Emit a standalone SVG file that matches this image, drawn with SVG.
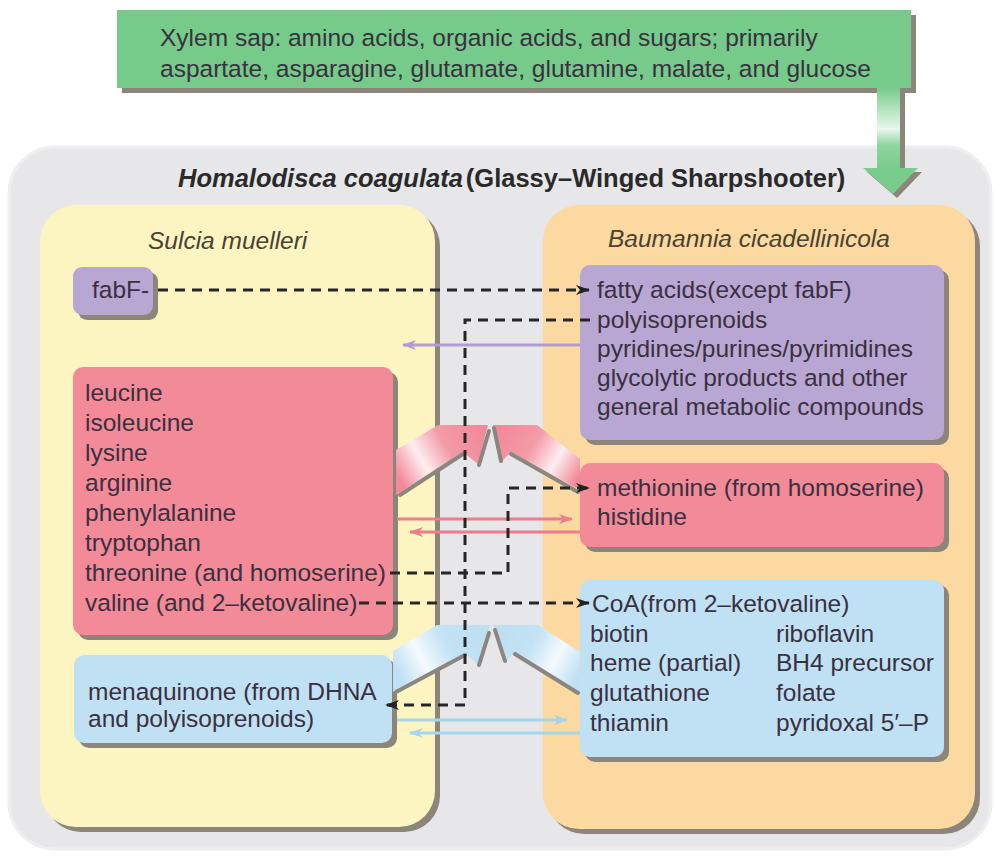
<svg xmlns="http://www.w3.org/2000/svg" width="995" height="857" viewBox="0 0 995 857">
  <style>
    text { font-family: "Liberation Sans", Arial, sans-serif; font-size: 24.5px; fill: #3a3040; }
    .label { font-style: italic; fill: #4a4232; }
    .title { font-size: 25.5px; font-weight: bold; fill: #2a2a2a; }
    .shadow { fill: #8c857a; }
    .dash { fill: none; stroke: #262626; stroke-width: 3; stroke-dasharray: 10 7; }
    .thin { fill: none; stroke-width: 3; }
    .edge { fill: none; stroke: #8c8680; stroke-width: 4; stroke-linecap: round; }
  </style>
  <defs>
    <marker id="ah-black" viewBox="0 0 14 10" refX="13" refY="5" markerWidth="14" markerHeight="10" markerUnits="userSpaceOnUse" orient="auto">
      <path d="M0,0 L14,5 L0,10 L4,5 z" fill="#222"/>
    </marker>
    <marker id="ah-pink" viewBox="0 0 14 10" refX="13" refY="5" markerWidth="14" markerHeight="10" markerUnits="userSpaceOnUse" orient="auto">
      <path d="M0,0 L14,5 L0,10 L4,5 z" fill="#ef7c8c"/>
    </marker>
    <marker id="ah-lilac" viewBox="0 0 14 10" refX="13" refY="5" markerWidth="14" markerHeight="10" markerUnits="userSpaceOnUse" orient="auto">
      <path d="M0,0 L14,5 L0,10 L4,5 z" fill="#b39ccf"/>
    </marker>
    <marker id="ah-blue" viewBox="0 0 14 10" refX="13" refY="5" markerWidth="14" markerHeight="10" markerUnits="userSpaceOnUse" orient="auto">
      <path d="M0,0 L14,5 L0,10 L4,5 z" fill="#a6d6ea"/>
    </marker>
    <linearGradient id="g-green" x1="0" y1="88" x2="0" y2="170" gradientUnits="userSpaceOnUse">
      <stop offset="0" stop-color="#78cc8c"/>
      <stop offset="0.5" stop-color="#e8f7ec"/>
      <stop offset="0.7" stop-color="#8ed49e"/>
      <stop offset="1" stop-color="#78cc8c"/>
    </linearGradient>
    <linearGradient id="g-pink-l" x1="397" y1="475" x2="480" y2="428" gradientUnits="userSpaceOnUse">
      <stop offset="0" stop-color="#f28898"/>
      <stop offset="0.3" stop-color="#fdeef0"/>
      <stop offset="0.6" stop-color="#f49aa7"/>
      <stop offset="1" stop-color="#f2899a"/>
    </linearGradient>
    <linearGradient id="g-pink-r" x1="580" y1="475" x2="500" y2="428" gradientUnits="userSpaceOnUse">
      <stop offset="0" stop-color="#f28898"/>
      <stop offset="0.3" stop-color="#fdeef0"/>
      <stop offset="0.6" stop-color="#f49aa7"/>
      <stop offset="1" stop-color="#f2899a"/>
    </linearGradient>
    <linearGradient id="g-blue-l" x1="397" y1="672" x2="480" y2="628" gradientUnits="userSpaceOnUse">
      <stop offset="0" stop-color="#bfe0f3"/>
      <stop offset="0.3" stop-color="#f4fafd"/>
      <stop offset="0.6" stop-color="#c4e3f5"/>
      <stop offset="1" stop-color="#bddff2"/>
    </linearGradient>
    <linearGradient id="g-blue-r" x1="580" y1="672" x2="500" y2="628" gradientUnits="userSpaceOnUse">
      <stop offset="0" stop-color="#bfe0f3"/>
      <stop offset="0.3" stop-color="#f4fafd"/>
      <stop offset="0.6" stop-color="#c4e3f5"/>
      <stop offset="1" stop-color="#bddff2"/>
    </linearGradient>
  </defs>

  <rect width="995" height="857" fill="#ffffff"/>

  <!-- host insect compartment -->
  <g id="host">
    <rect x="9" y="147" width="982" height="702" rx="46" fill="#e7e7e9" stroke="#efeff1" stroke-width="3"/>
    <text class="title" x="178" y="187"><tspan font-style="italic">Homalodisca coagulata</tspan><tspan dx="3">(Glassy–Winged Sharpshooter)</tspan></text>
  </g>

  <!-- xylem sap input -->
  <g id="xylem-sap">
    <rect x="122" y="15" width="794" height="78" class="shadow"/>
    <rect x="117" y="10" width="794" height="78" fill="#76cb8b"/>
    <text x="160" y="46" fill="#2b3a2e">Xylem sap: amino acids, organic acids, and sugars; primarily</text>
    <text x="160" y="77" fill="#2b3a2e">aspartate, asparagine, glutamate, glutamine, malate, and glucose</text>
  </g>

  <!-- Sulcia compartment -->
  <g id="sulcia">
    <rect x="45" y="210" width="395" height="622" rx="36" class="shadow"/>
    <rect x="40" y="205" width="395" height="622" rx="36" fill="#fcf5c2"/>
    <text class="label" x="148" y="249">Sulcia muelleri</text>
  </g>

  <!-- Baumannia compartment -->
  <g id="baumannia">
    <rect x="548" y="210" width="432" height="624" rx="36" class="shadow"/>
    <rect x="543" y="205" width="432" height="624" rx="36" fill="#fcd9a0"/>
    <text class="label" x="608" y="247">Baumannia cicadellinicola</text>
  </g>

  <!-- Sulcia products -->
  <g id="sulcia-fabF">
    <rect x="78" y="272" width="80" height="48" rx="9" class="shadow"/>
    <rect x="73" y="267" width="80" height="48" rx="9" fill="#b8a6d3"/>
    <text x="92" y="298">fabF-</text>
  </g>

  <g id="sulcia-amino-acids">
    <rect x="78" y="372" width="320" height="268" rx="10" class="shadow"/>
    <rect x="73" y="367" width="320" height="268" rx="10" fill="#f38a97"/>
    <text x="85" y="401" fill="#4a2330">leucine</text>
    <text x="85" y="431" fill="#4a2330">isoleucine</text>
    <text x="85" y="461" fill="#4a2330">lysine</text>
    <text x="85" y="491" fill="#4a2330">arginine</text>
    <text x="85" y="521" fill="#4a2330">phenylalanine</text>
    <text x="85" y="551" fill="#4a2330">tryptophan</text>
    <text x="85" y="581" fill="#4a2330">threonine (and homoserine)</text>
    <text x="85" y="611" fill="#4a2330">valine (and 2–ketovaline)</text>
  </g>

  <g id="sulcia-menaquinone">
    <rect x="79" y="660" width="318" height="88" rx="10" class="shadow"/>
    <rect x="74" y="655" width="318" height="88" rx="10" fill="#c0e1f4"/>
    <text x="88" y="700" fill="#2d3b4c">menaquinone (from DHNA</text>
    <text x="88" y="727" fill="#2d3b4c">and polyisoprenoids)</text>
  </g>

  <!-- Baumannia products -->
  <g id="baumannia-general">
    <rect x="585" y="270" width="364" height="175" rx="10" class="shadow"/>
    <rect x="580" y="265" width="364" height="175" rx="10" fill="#b8a6d3"/>
    <text x="597" y="298">fatty acids(except fabF)</text>
    <text x="597" y="328">polyisoprenoids</text>
    <text x="597" y="357">pyridines/purines/pyrimidines</text>
    <text x="597" y="386">glycolytic products and other</text>
    <text x="597" y="415">general metabolic compounds</text>
  </g>

  <g id="baumannia-amino-acids">
    <rect x="585" y="468" width="364" height="84" rx="10" class="shadow"/>
    <rect x="580" y="463" width="364" height="84" rx="10" fill="#f38a97"/>
    <text x="597" y="496" fill="#4a2330">methionine (from homoserine)</text>
    <text x="597" y="525" fill="#4a2330">histidine</text>
  </g>

  <g id="baumannia-cofactors">
    <rect x="585" y="585" width="364" height="177" rx="10" class="shadow"/>
    <rect x="580" y="580" width="364" height="177" rx="10" fill="#c0e1f4"/>
    <text x="592" y="612" fill="#2d3b4c">CoA(from 2–ketovaline)</text>
    <text x="590" y="642" fill="#2d3b4c">biotin</text>
    <text x="590" y="671" fill="#2d3b4c">heme (partial)</text>
    <text x="590" y="701" fill="#2d3b4c">glutathione</text>
    <text x="590" y="731" fill="#2d3b4c">thiamin</text>
    <text x="776" y="642" fill="#2d3b4c">riboflavin</text>
    <text x="776" y="671" fill="#2d3b4c">BH4 precursor</text>
    <text x="776" y="701" fill="#2d3b4c">folate</text>
    <text x="776" y="731" fill="#2d3b4c">pyridoxal 5′–P</text>
  </g>

  <!-- connectors -->
  <g id="connectors">
    <!-- xylem sap uptake -->
    <g id="sap-arrow">
      <rect x="881" y="92" width="24" height="78" fill="#8c857a"/>
      <rect x="877" y="88" width="23" height="82" fill="url(#g-green)"/>
      <polygon points="867,172 922,172 897,198" fill="#8c857a"/>
      <polygon points="863,168 918,168 893,194" fill="#78cc8c"/>
    </g>

    <!-- broad flows toward the host -->
    <g id="flow-pink-left">
      <polygon points="396,450 438,425 488,425 478,464 463,452 396,495" fill="url(#g-pink-l)"/>
      <path class="edge" d="M400,495 L463,454 M479,465 L489,431"/>
    </g>
    <g id="flow-pink-right">
      <polygon points="493,425 537,425 580,459 580,490 511,452 501,462" fill="url(#g-pink-r)"/>
      <path class="edge" d="M494,428 L501,461 M511,454 L578,492"/>
    </g>
    <g id="flow-blue-left">
      <polygon points="393,651 437,625 490,625 478,665 465,653 393,692" fill="url(#g-blue-l)"/>
      <path class="edge" d="M396,692 L465,655 M479,665 L489,633"/>
    </g>
    <g id="flow-blue-right">
      <polygon points="493,625 538,625 580,652 580,692 515,652 505,662" fill="url(#g-blue-r)"/>
      <path class="edge" d="M495,630 L505,661 M515,654 L578,693"/>
    </g>

    <!-- exchange arrows -->
    <path class="thin" stroke="#b39ccf" d="M580,345 H403" marker-end="url(#ah-lilac)"/>
    <path class="thin" stroke="#ef7c8c" d="M397,519 H572" marker-end="url(#ah-pink)"/>
    <path class="thin" stroke="#ef7c8c" d="M580,532 H410" marker-end="url(#ah-pink)"/>
    <path class="thin" stroke="#a6d6ea" d="M397,720 H567" marker-end="url(#ah-blue)"/>
    <path class="thin" stroke="#a6d6ea" d="M580,733 H410" marker-end="url(#ah-blue)"/>

    <!-- pathway hand-offs -->
    <path class="dash" d="M158,290 H589" marker-end="url(#ah-black)"/>
    <path class="dash" d="M590,320 H465 V705 H386" marker-end="url(#ah-black)"/>
    <path class="dash" d="M390,573 H508 V488 H589" marker-end="url(#ah-black)"/>
    <path class="dash" d="M359,603 H589" marker-end="url(#ah-black)"/>
  </g>
</svg>
